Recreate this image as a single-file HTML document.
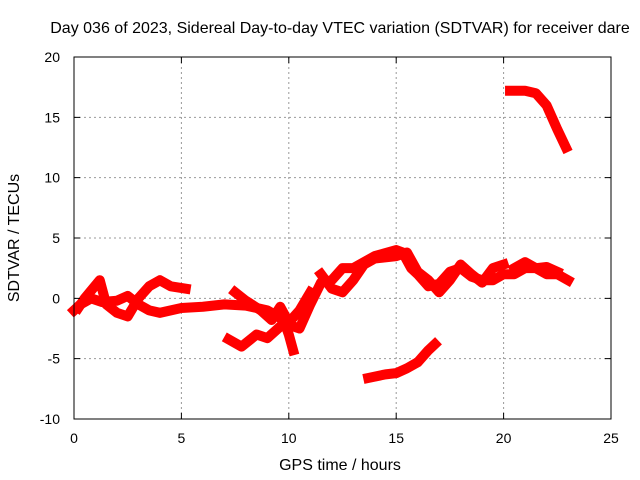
<!DOCTYPE html>
<html><head><meta charset="utf-8"><style>
body{margin:0;background:#fff}
svg{display:block;font-family:"Liberation Sans",sans-serif}
</style></head><body>
<svg id="chart" width="640" height="480" viewBox="0 0 640 480">
<rect width="640" height="480" fill="#fff"/>
<text x="340" y="33" text-anchor="middle" font-size="16">Day 036 of 2023, Sidereal Day-to-day VTEC variation (SDTVAR) for receiver dare</text>
<g id="grid"></g>
<g id="series"></g>
<rect x="74" y="57" width="537" height="362" fill="none" stroke="#000" stroke-width="1"/>
<g id="ticks"></g>
<text x="340" y="470" text-anchor="middle" font-size="16">GPS time / hours</text>
<text transform="translate(19,238) rotate(-90)" text-anchor="middle" font-size="16">SDTVAR / TECUs</text>
</svg>
<script>
const xTicks=[0,5,10,15,20,25];
const yTicks=[-10,-5,0,5,10,15,20];
const trackA_t=[0,0.3,0.8,1.3,2,2.5,3,3.5,4,5,6,7,8,9,9.5,10,10.5,11,11.5,12,12.5,13,13.5,14,15,15.3,15.7,16,16.5,17,17.5,18,18.5,19,19.5,20,20.5,21,21.5,22,22.5,23];
const trackA_v=[-1,-0.5,0,-0.3,-0.2,0.2,-0.5,-1,-1.2,-0.8,-0.7,-0.5,-0.6,-1,-1.5,-2.2,-2.5,-0.5,1.3,1.5,2.5,2.5,3,3.5,4,3.8,2.5,2,1,1.2,2.2,2.5,1.8,1.5,1.5,2,2,2.5,2.5,2,2,1.5];
const trackB_t=[0.2,0.5,1.2,1.5,2,2.5,3,3.5,4,4.5,5.2];
const trackB_v=[-0.8,0,1.5,-0.5,-1.2,-1.5,0,1,1.5,1,0.8];
const trackC_t=[7.2,7.8,8.5,9,9.5,9.8,10,10.2];
const trackC_v=[-3.4,-4,-3,-3.3,-2.5,-2,-3,-4.3];
const trackD_t=[7.5,8,8.7,9.2,9.6,10,10.5,11];
const trackD_v=[0.5,-0.2,-1,-1.8,-0.7,-2,-1,0.5];
const trackE_t=[11.5,12,12.5,13,13.5,14,15,15.5,16,16.5,17,17.5,18,18.5,19,19.5,20];
const trackE_v=[2,0.8,0.5,1.5,2.8,3.3,3.5,3.8,2.2,1.5,0.5,1.5,2.8,2,1.3,2.5,2.8];
const trackF_t=[13.7,14.5,15,15.5,16,16.5,16.8];
const trackF_v=[-6.6,-6.3,-6.2,-5.8,-5.3,-4.3,-3.8];
const trackG_t=[20.3,21,21.5,22,22.5,22.9];
const trackG_v=[17.2,17.2,17,16,14,12.5];
const trackH_t=[20.5,21,21.5,22,22.5];
const trackH_v=[2.5,3,2.5,2.6,2.2];
const tracks=[[trackA_t,trackA_v],[trackB_t,trackB_v],[trackC_t,trackC_v],[trackD_t,trackD_v],[trackE_t,trackE_v],[trackF_t,trackF_v],[trackG_t,trackG_v],[trackH_t,trackH_v]];
const X0=74,X1=611,Y0=419,Y1=57;
const xs=t=>X0+(t-0)/25*(X1-X0);
const ys=v=>Y0-(v+10)/30*(Y0-Y1);
const NS='http://www.w3.org/2000/svg';
const grid=document.getElementById('grid'),ticks=document.getElementById('ticks'),ser=document.getElementById('series');
function mk(tag,a){const e=document.createElementNS(NS,tag);for(const k in a)e.setAttribute(k,a[k]);return e;}
xTicks.forEach(t=>{
  const x=xs(t);
  if(t>0&&t<25){const g=mk('line',{x1:x,y1:Y0,x2:x,y2:Y1,stroke:'#999','stroke-dasharray':'2,3'});
  
  grid.appendChild(g);}
  const tk=mk('path',{d:`M${x},${Y0}v-6M${x},${Y1}v6`,stroke:'#000'});
  
  ticks.appendChild(tk);
  const l=mk('text',{x:x,y:Y0+24,'text-anchor':'middle','font-size':14});l.textContent=t;
  
  ticks.appendChild(l);
});
yTicks.forEach(v=>{
  const y=ys(v);
  if(v>-10&&v<20){const g=mk('line',{x1:X0,y1:y,x2:X1,y2:y,stroke:'#999','stroke-dasharray':'2,3'});
  
  grid.appendChild(g);}
  const tk=mk('path',{d:`M${X0},${y}h6M${X1},${y}h-6`,stroke:'#000'});
  
  ticks.appendChild(tk);
  const l=mk('text',{x:X0-14,y:y+5,'text-anchor':'end','font-size':14});l.textContent=v;
  
  ticks.appendChild(l);
});
tracks.forEach(([T,V])=>{
  const p=mk('polyline',{points:T.map((t,i)=>xs(t)+','+ys(V[i])).join(' '),fill:'none',stroke:'#f00','stroke-width':10,'stroke-linejoin':'round','stroke-linecap':'square'});
  
  
  ser.appendChild(p);
});
</script>
</body></html>
